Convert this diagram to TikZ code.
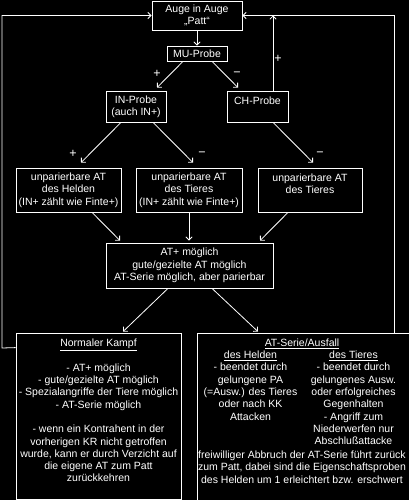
\documentclass[tikz,border=0pt]{standalone}
\usepackage{fontspec}
\setmainfont{Liberation Sans}
\usetikzlibrary{arrows.meta,calc}
\begin{document}
\begin{tikzpicture}[x=1pt,y=-1pt,
  every node/.style={text=white, font=\fontsize{10.5}{12.3}\selectfont},
  box/.style={draw=white, line width=0.8pt, inner sep=0pt, align=center},
  txt/.style={inner sep=0pt, align=center},
  arr/.style={draw=white, line width=0.8pt, -{Straight Barb[length=3.2pt,width=6.4pt]}},
  sign/.style={inner sep=0pt, font=\fontsize{12.5}{14}\selectfont}]
\fill[black] (0,0) rectangle (409,500);
\useasboundingbox (0,0) rectangle (409,500);

% boxes
\node[box, minimum width=90pt, minimum height=29pt] (patt) at (197,15.5) {Auge in Auge\\„Patt“};
\node[box, minimum width=60pt, minimum height=15pt] (mu) at (197,53.5) {MU-Probe};
\node[box, minimum width=60pt, minimum height=31pt] (inp) at (136,106.5) {IN-Probe\\(auch IN+)};
\node[box, minimum width=61pt, minimum height=31pt] (chp) at (257.5,106.5) {CH-Probe\\\mbox{}};
\node[box, minimum width=105pt, minimum height=44pt] (uh) at (68.5,190) {unparierbare AT\\des Helden\\(IN+ zählt wie Finte+)};
\node[box, minimum width=106pt, minimum height=44pt] (ut) at (189,190) {unparierbare AT\\des Tieres\\(IN+ zählt wie Finte+)};
\node[box, minimum width=104pt, minimum height=44pt] (ut2) at (310,190) {unparierbare AT\\des Tieres\\\mbox{}};
\node[box, minimum width=167pt, minimum height=45pt] (atp) at (189.5,265.5) {AT+ möglich\\gute/gezielte AT möglich\\AT-Serie möglich, aber parierbar};
\node[box, minimum width=165pt, minimum height=166pt] (nk) at (98.5,416) {};
\node[box, minimum width=214.5pt, minimum height=172pt] (ats) at (304.75,419) {};

% texts in the big boxes
\node[txt, anchor=north] (nkt) at (98.5,338.8) {\underline{Normaler Kampf}\\[12.3pt]
  - AT+ möglich\\- gute/gezielte AT möglich\\- Spezialangriffe der Tiere möglich\\- AT-Serie möglich\\[12.3pt]
  - wenn ein Kontrahent in der\\vorherigen KR nicht getroffen\\wurde, kann er durch Verzicht auf\\die eigene AT zum Patt\\zurückkehren};
\node[txt, anchor=north] (atst) at (302,338.8) {\underline{AT-Serie/Ausfall}};
\node[txt, anchor=north] (atsl) at (250.5,350.8) {\underline{des Helden}\\- beendet durch\\gelungene PA\\(=Ausw.) des Tieres\\oder nach KK\\Attacken};
\node[txt, anchor=north] (atsr) at (353.5,350.8) {\underline{des Tieres}\\- beendet durch\\gelungenes Ausw.\\oder erfolgreiches\\Gegenhalten\\- Angriff zum\\Niederwerfen nur\\Abschlußattacke};
\node[txt, anchor=north] (atsb) at (302,450.8) {freiwilliger Abbruch der AT-Serie führt zurück\\zum Patt, dabei sind die Eigenschaftsproben\\des Helden um 1 erleichtert bzw. erschwert};

% signs
\node[sign] (p1) at (157,74) {+};
\node[sign] (m1) at (237,74) {−};
\node[sign] (p2) at (278,59) {+};
\node[sign] (p3) at (73,154) {+};
\node[sign] (m2) at (202,154) {−};
\node[sign] (m3) at (320,154) {−};

% connectors
\draw[arr] (patt.south) -- (mu.north);
\draw[arr] ([xshift=-14pt]mu.south) -- ([xshift=21pt,yshift=3pt]inp.north);
\draw[arr] ([xshift=15pt]mu.south) -- ([xshift=-19.5pt,yshift=3pt]chp.north);
\draw[arr] ([xshift=15.5pt]chp.north) -- ([xshift=15.5pt]chp.north |- patt.east);
\draw[arr] ([xshift=89.25pt]ats.north) |- (patt.east);
\coordinate (lc) at (2,348);
\draw[arr] ([yshift=-15pt]nk.north west) -- (lc) |- (patt.west);

\draw[arr] ([xshift=-15pt]inp.south) -- ([xshift=12.5pt,yshift=5pt]uh.north);
\draw[arr] ([xshift=17pt]inp.south) -- ([xshift=4pt,yshift=5pt]ut.north);
\draw[arr] ([xshift=15.5pt]chp.south) -- ([xshift=3pt,yshift=5pt]ut2.north);

\draw[arr] ([xshift=23.5pt]uh.south) -- ([xshift=-69.5pt,yshift=2pt]atp.north);
\draw[arr] (ut.south) -- ([yshift=2pt]ut.south |- atp.north);
\draw[arr] ([xshift=-22pt]ut2.south) -- ([xshift=70.5pt,yshift=2pt]atp.north);

\draw[arr] ([xshift=-21.5pt]atp.south) -- ([xshift=24.5pt,yshift=1pt]nk.north);
\draw[arr] ([xshift=22.5pt]atp.south) -- ([xshift=-46.75pt,yshift=1pt]ats.north);
\end{tikzpicture}
\end{document}
